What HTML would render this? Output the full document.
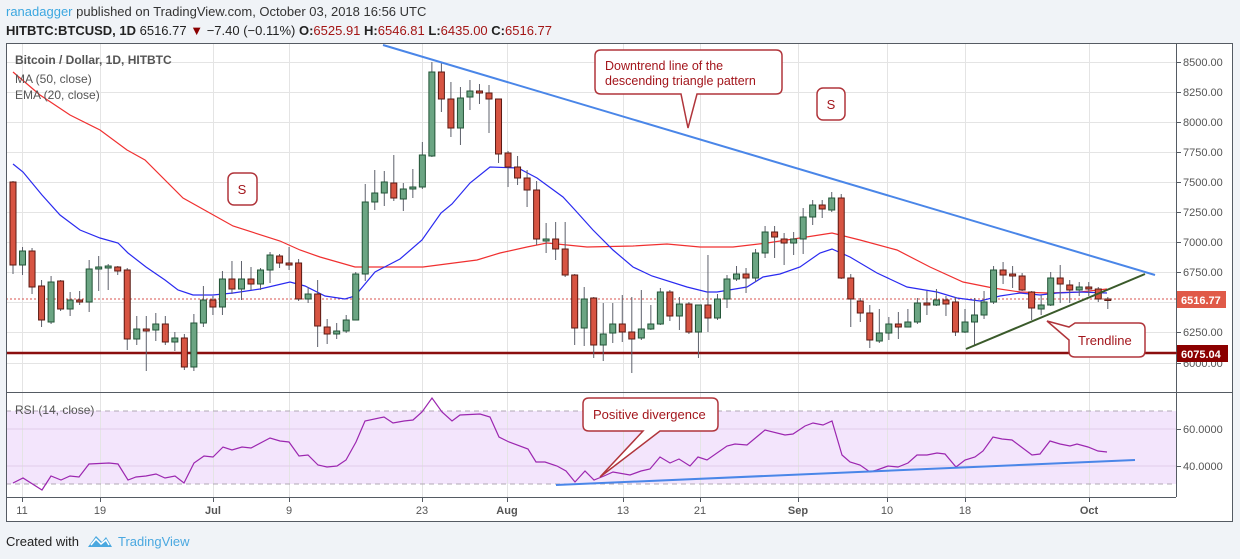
<!DOCTYPE html>
<html><head><meta charset="utf-8">
<style>
html,body{margin:0;padding:0;background:#f0f3f7;}
body{width:1240px;height:559px;overflow:hidden;position:relative;font-family:"Liberation Sans",sans-serif;}
svg{position:absolute;left:0;top:0;}
</style></head>
<body>
<svg id="s" width="1240" height="559" viewBox="0 0 1240 559" xmlns="http://www.w3.org/2000/svg" font-family="Liberation Sans, sans-serif">
<rect x="6" y="43" width="1227" height="479" fill="#ffffff"/>
<rect x="6" y="411" width="1170" height="73" fill="#f3e5fc"/>
<g id="grid" stroke="#e4e4e4" stroke-width="1"></g>
<line x1="6" y1="411" x2="1176" y2="411" stroke="#b0a8b5" stroke-dasharray="5,4"/>
<line x1="6" y1="484" x2="1176" y2="484" stroke="#b0a8b5" stroke-dasharray="5,4"/>
<line x1="6" y1="429" x2="1176" y2="429" stroke="#e0cdea"/>
<line x1="6" y1="466" x2="1176" y2="466" stroke="#e0cdea"/>
<!-- support -->
<line x1="6" y1="353" x2="1176" y2="353" stroke="#8b0f0f" stroke-width="2.5"/>
<line x1="6" y1="299" x2="1176" y2="299" stroke="#d9534f" stroke-width="1" stroke-dasharray="2,2"/>
<g id="mas" fill="none"></g>
<g id="candles"></g>
<!-- trend lines -->
<line x1="383" y1="45" x2="1155" y2="275" stroke="#4a86e8" stroke-width="2"/>
<line x1="966" y1="349" x2="1145" y2="274" stroke="#3a5a2a" stroke-width="2"/>
<g id="rsi" fill="none"></g>
<line x1="556" y1="485" x2="1135" y2="460" stroke="#4a86e8" stroke-width="2"/>
<!-- frames -->
<rect x="6.5" y="43.5" width="1226" height="478" fill="none" stroke="#555b63"/>
<line x1="1176.5" y1="43" x2="1176.5" y2="497" stroke="#555b63"/>
<line x1="6" y1="392.5" x2="1233" y2="392.5" stroke="#555b63"/>
<line x1="6" y1="497.5" x2="1176" y2="497.5" stroke="#555b63"/>
<g id="ticks" stroke="#555b63"></g>
<!-- price labels -->
<g font-size="11" fill="#555">
<text x="1183" y="66">8500.00</text><text x="1183" y="96">8250.00</text><text x="1183" y="126">8000.00</text>
<text x="1183" y="156">7750.00</text><text x="1183" y="186">7500.00</text><text x="1183" y="216">7250.00</text>
<text x="1183" y="246">7000.00</text><text x="1183" y="276">6750.00</text><text x="1183" y="336">6250.00</text>
<text x="1183" y="367">6000.00</text>
<text x="1183" y="433">60.0000</text><text x="1183" y="470">40.0000</text>
</g>
<rect x="1177" y="291" width="49" height="17" fill="#e05a48"/>
<text x="1181" y="304" font-size="11" font-weight="bold" fill="#fff">6516.77</text>
<line x1="1145" y1="353" x2="1177" y2="353" stroke="#8b0f0f" stroke-width="1.5"/>
<rect x="1177" y="345" width="51" height="17" fill="#8b0000"/>
<text x="1181" y="358" font-size="11" font-weight="bold" fill="#fff">6075.04</text>
<!-- date labels -->
<g font-size="11" fill="#555" text-anchor="middle">
<text x="22" y="514">11</text><text x="100" y="514">19</text><text x="213" y="514" font-weight="bold">Jul</text>
<text x="289" y="514">9</text><text x="422" y="514">23</text><text x="507" y="514" font-weight="bold">Aug</text>
<text x="623" y="514">13</text><text x="700" y="514">21</text><text x="798" y="514" font-weight="bold">Sep</text>
<text x="887" y="514">10</text><text x="965" y="514">18</text><text x="1089" y="514" font-weight="bold">Oct</text>
</g>
<!-- legends -->
<text x="15" y="64" font-size="12" fill="#555" font-weight="bold">Bitcoin / Dollar, 1D, HITBTC</text>
<text x="15" y="83" font-size="12" fill="#555">MA (50, close)</text>
<text x="15" y="99" font-size="12" fill="#555">EMA (20, close)</text>
<text x="15" y="414" font-size="12" fill="#555">RSI (14, close)</text>
<!-- annotations -->
<g fill="#fff" stroke="#b0353b" stroke-width="1.5">
<path d="M601,50 H776 Q782,50 782,56 V88 Q782,94 776,94 H697 L688,128 L681,94 H601 Q595,94 595,88 V56 Q595,50 601,50 Z"/>
<rect x="228" y="173" width="29" height="32" rx="6"/>
<rect x="817" y="88" width="28" height="32" rx="6"/>
<path d="M1075,323 H1139 Q1145,323 1145,329 V351 Q1145,357 1139,357 H1075 Q1069,357 1069,351 V340 L1047,321 L1069,327 Z"/>
<path d="M589,398 H712 Q718,398 718,404 V425 Q718,431 712,431 H660 L600,477 L643,431 H589 Q583,431 583,425 V404 Q583,398 589,398 Z"/>
</g>
<g fill="#a3161c" font-size="12.5">
<text x="605" y="70">Downtrend line of the</text>
<text x="605" y="85">descending triangle pattern</text>
<text x="242" y="194" text-anchor="middle" font-size="13">S</text>
<text x="831" y="109" text-anchor="middle" font-size="13">S</text>
<text x="1078" y="345" font-size="13">Trendline</text>
<text x="593" y="419" font-size="13">Positive divergence</text>
</g>
<!-- header -->
<text x="6" y="16" font-size="13"><tspan fill="#3ca7e0">ranadagger</tspan><tspan fill="#333"> published on TradingView.com, October 03, 2018 16:56 UTC</tspan></text>
<text x="6" y="35" font-size="13" fill="#222"><tspan font-weight="bold">HITBTC:BTCUSD, 1D</tspan> 6516.77 <tspan fill="#8b0000">▼</tspan> −7.40 (−0.11%) <tspan font-weight="bold">O:</tspan><tspan fill="#a31515">6525.91</tspan> <tspan font-weight="bold">H:</tspan><tspan fill="#a31515">6546.81</tspan> <tspan font-weight="bold">L:</tspan><tspan fill="#a31515">6435.00</tspan> <tspan font-weight="bold">C:</tspan><tspan fill="#a31515">6516.77</tspan></text>
<!-- footer -->
<text x="6" y="546" font-size="13" fill="#222">Created with</text>
<path d="M88,547 L96,536 L102,542 L106,537 L112,547 Z" fill="#4aa8e0"/>
<path d="M91,545 L96,539 L101,544 L106,540 L109,545" fill="none" stroke="#fff" stroke-width="1.5"/>
<text x="118" y="546" font-size="13" fill="#4aa8e0">TradingView</text>
</svg>
<script>
var NS="http://www.w3.org/2000/svg";
function el(p,t,a){var e=document.createElementNS(NS,t);for(var k in a)e.setAttribute(k,a[k]);p.appendChild(e);return e;}
var g=document.getElementById('grid');
[62,92,122,152,182,212,242,272,302,332,363].forEach(function(y){el(g,'line',{x1:6,x2:1176,y1:y+.5,y2:y+.5});});
var tk=document.getElementById('ticks');
[22,100,213,289,422,507,623,700,798,887,965,1089].forEach(function(x){el(g,'line',{x1:x+.5,x2:x+.5,y1:43,y2:497});el(tk,'line',{x1:x+.5,x2:x+.5,y1:497,y2:502});});
[62,92,122,152,182,212,242,272,302,332,363,429,466].forEach(function(y){el(tk,'line',{x1:1176,x2:1181,y1:y+.5,y2:y+.5});});
// [top,bottom,high,low,green]
var C=[[182,265,181,274,0],[251,265,247,275,1],[251,287,248,294,0],[286,320,280,327,0],[282,322,276,324,1],[281,309,280,311,0],[300,309,292,316,1],[300,302,291,305,0],[269,302,260,312,1],[267,269,256,291,1],[266,268,264,290,1],[267,271,266,275,0],[270,339,268,350,0],[329,339,316,345,1],[329,331,316,371,0],[324,330,313,341,1],[324,342,316,345,0],[338,342,332,351,1],[338,367,334,370,0],[323,367,314,371,1],[300,323,286,327,1],[300,307,296,315,0],[279,307,271,315,1],[279,289,261,294,0],[279,289,261,300,1],[279,284,267,290,0],[270,284,268,290,1],[255,270,252,283,1],[256,263,254,268,0],[263,265,247,270,0],[263,299,259,301,0],[294,299,287,303,1],[294,326,280,347,0],[327,334,319,344,0],[331,334,323,339,1],[320,331,315,333,1],[274,320,272,320,1],[202,274,184,281,1],[193,202,170,210,1],[182,193,171,206,1],[183,198,155,201,0],[189,199,183,211,1],[187,189,169,198,1],[155,187,142,189,1],[72,156,62,157,1],[72,99,62,112,0],[99,128,82,137,0],[98,128,87,145,1],[91,97,80,110,1],[91,93,84,104,0],[93,99,85,133,0],[99,154,99,163,0],[153,167,151,187,0],[167,178,156,185,0],[178,190,170,207,0],[190,239,181,245,0],[239,241,223,253,1],[239,249,222,260,0],[249,275,222,277,0],[275,328,274,345,0],[299,328,287,346,1],[298,345,297,358,0],[334,345,303,361,1],[324,333,303,343,1],[324,332,295,342,0],[332,339,297,373,0],[329,338,290,340,1],[324,329,305,330,1],[292,324,288,325,1],[292,316,290,321,0],[304,316,297,330,1],[304,332,302,334,0],[305,332,306,358,1],[305,318,255,332,0],[299,318,294,320,1],[279,299,275,308,1],[274,279,266,281,1],[274,278,268,293,0],[253,278,249,282,1],[232,253,226,258,1],[232,237,226,258,0],[239,243,233,265,0],[239,243,232,255,1],[217,239,208,254,1],[205,217,200,225,1],[205,209,200,218,0],[198,210,192,212,1],[198,278,194,279,0],[278,299,274,327,0],[301,313,298,322,0],[313,340,305,348,0],[333,341,309,343,1],[324,333,317,340,1],[324,327,312,339,0],[322,327,309,327,1],[303,322,298,324,1],[303,305,291,315,0],[300,305,289,306,1],[300,304,296,316,0],[302,332,297,336,0],[322,332,309,333,1],[315,322,298,345,1],[302,315,291,319,1],[270,302,266,304,1],[270,275,262,284,0],[274,276,266,288,0],[276,290,273,291,0],[292,308,291,320,0],[305,309,295,315,1],[278,305,272,306,1],[278,284,265,303,0],[285,290,280,303,0],[287,290,282,296,1],[287,289,282,296,0],[289,299,287,302,0],[299,300,297,309,0]];
var cg=document.getElementById('candles');
C.forEach(function(c,i){var x=13+9.52*i;
el(cg,'line',{x1:x,x2:x,y1:c[2],y2:c[3],stroke:'#5d606b','stroke-width':1});
var h=Math.max(c[1]-c[0],1.5);
el(cg,'rect',{x:x-3,y:c[0],width:6,height:h,fill:c[4]?'#6ba583':'#d75442',stroke:c[4]?'#225437':'#5b1a13','stroke-width':1});});
function pl(p,pts,col,w){el(p,'polyline',{points:pts.map(function(q){return q.join(',')}).join(' '),stroke:col,'stroke-width':w,fill:'none'});}
var m=document.getElementById('mas');
pl(m,[[13,72],[40,95],[70,115],[100,130],[127,150],[145,160],[183,198],[233,226],[280,241],[300,250],[320,257],[355,267],[423,267],[477,260],[500,253],[527,247],[547,243],[587,247],[633,246],[667,244],[700,247],[733,247],[767,243],[800,238],[832,233],[860,240],[897,250],[930,267],[963,282],[993,288],[1020,292],[1047,293],[1080,292],[1107,289]],'#f03030',1.2);
pl(m,[[13,164],[23,172],[42,195],[60,215],[80,230],[100,238],[118,243],[128,253],[146,267],[165,280],[178,290],[193,295],[213,295],[233,293],[260,289],[290,282],[305,286],[325,296],[345,299],[355,296],[375,272],[400,259],[422,240],[441,213],[452,204],[470,183],[490,167],[518,168],[537,178],[563,197],[575,210],[593,230],[613,250],[633,267],[652,276],[687,287],[707,292],[717,292],[747,287],[763,277],[780,274],[800,267],[820,253],[832,249],[850,257],[877,273],[907,287],[937,292],[957,298],[980,301],[1000,296],[1020,293],[1040,295],[1057,293],[1080,292],[1107,293]],'#2a2af0',1.2);
var r=document.getElementById('rsi');
pl(r,[[13,483],[23,478],[42,490],[51,476],[61,480],[70,476],[79,477],[89,464],[109,463],[118,464],[128,480],[136,477],[146,476],[156,474],[165,478],[175,476],[184,483],[194,463],[204,456],[213,457],[223,447],[232,450],[242,447],[251,448],[270,438],[280,441],[289,442],[299,456],[308,455],[318,465],[327,467],[337,466],[346,460],[356,442],[365,421],[384,417],[393,423],[404,421],[413,420],[422,412],[432,398],[442,412],[452,421],[460,415],[480,414],[490,417],[499,437],[509,442],[528,449],[536,462],[545,462],[557,466],[566,471],[575,482],[585,471],[594,480],[604,476],[613,472],[630,475],[641,471],[650,469],[660,457],[670,463],[679,459],[690,466],[698,457],[707,460],[727,446],[735,444],[747,445],[765,430],[785,435],[793,434],[805,426],[813,423],[823,425],[832,421],[842,455],[850,462],[860,465],[870,472],[877,470],[888,466],[898,467],[908,463],[917,455],[927,455],[937,453],[945,454],[956,467],[965,460],[975,457],[983,451],[993,437],[1002,439],[1012,440],[1032,455],[1040,454],[1050,441],[1060,444],[1070,446],[1077,444],[1088,447],[1098,451],[1107,452]],'#9c27b0',1.2);
</script>
</body></html>
